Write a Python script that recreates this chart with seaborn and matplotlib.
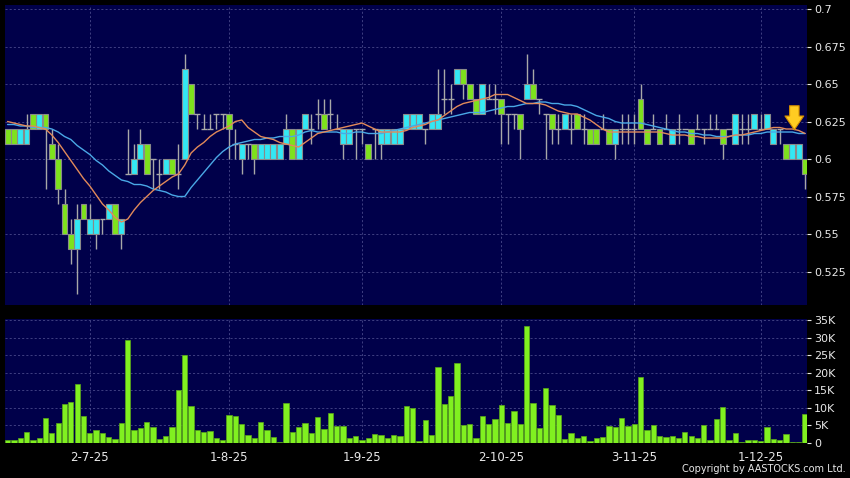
"""Daily candlestick chart with 10/20-day averages and volume (AASTOCKS style)."""
import matplotlib.pyplot as plt
import numpy as np
import pandas as pd
import seaborn as sns
from matplotlib.ticker import FuncFormatter

# ---- data (one entry per trading day) ----
opens = [
    .62, .62, .61, .61, .63, .62, .63, .61, .60, .57,
    .55, .54, .57, .55, .55, .56, .56, .57, .55, .59,
    .59, .60, .61, .60, .59, .59, .60, .59, .60, .65,
    .63, .62, .62, .63, .63, .63, .61, .60, .61, .61,
    .60, .60, .60, .60, .61, .62, .60, .62, .62, .63,
    .63, .63, .62, .61, .61, .62, .62, .61, .62, .61,
    .61, .61, .61, .62, .62, .62, .62, .62, .62, .64,
    .64, .65, .66, .65, .64, .63, .64, .64, .64, .63,
    .63, .63, .64, .65, .64, .63, .63, .62, .62, .62,
    .63, .62, .62, .62, .62, .62, .61, .62, .62, .62,
    .64, .62, .62, .62, .62, .61, .62, .62, .62, .62,
    .62, .62, .62, .62, .62, .61, .62, .62, .62, .62,
    .62, .61, .62, .61, .60, .60, .60,
]
highs = [
    .62, .62, .62, .63, .63, .63, .63, .62, .61, .58,
    .56, .57, .57, .57, .56, .56, .57, .57, .56, .62,
    .61, .62, .61, .60, .60, .60, .60, .61, .67, .65,
    .63, .63, .63, .63, .63, .63, .62, .61, .61, .61,
    .61, .61, .61, .61, .63, .62, .62, .63, .63, .64,
    .64, .64, .63, .62, .62, .62, .62, .61, .62, .62,
    .62, .62, .62, .63, .63, .63, .62, .63, .66, .66,
    .65, .66, .66, .65, .64, .65, .65, .65, .64, .63,
    .63, .63, .67, .66, .64, .63, .63, .63, .63, .63,
    .63, .63, .62, .62, .63, .62, .62, .63, .63, .63,
    .65, .62, .63, .62, .63, .62, .63, .62, .62, .63,
    .62, .63, .63, .62, .62, .63, .63, .63, .63, .63,
    .63, .62, .62, .61, .61, .61, .60,
]
lows = [
    .61, .61, .61, .61, .62, .62, .58, .60, .57, .55,
    .53, .51, .56, .55, .54, .55, .56, .55, .54, .59,
    .59, .60, .59, .58, .58, .59, .59, .58, .60, .63,
    .62, .62, .62, .62, .62, .60, .60, .59, .60, .59,
    .60, .60, .60, .60, .61, .60, .60, .62, .61, .62,
    .62, .62, .62, .60, .61, .60, .61, .60, .60, .60,
    .61, .61, .61, .62, .62, .62, .61, .62, .62, .63,
    .63, .65, .64, .64, .63, .63, .64, .63, .61, .61,
    .62, .60, .64, .64, .63, .60, .61, .61, .62, .61,
    .62, .61, .61, .61, .62, .61, .60, .61, .61, .61,
    .62, .61, .62, .61, .62, .61, .61, .62, .61, .62,
    .61, .62, .62, .60, .62, .61, .61, .61, .62, .62,
    .62, .61, .61, .60, .60, .60, .58,
]
closes = [
    .61, .61, .62, .62, .62, .63, .62, .60, .58, .55,
    .54, .56, .56, .56, .56, .56, .57, .55, .56, .59,
    .60, .61, .59, .60, .59, .60, .59, .59, .66, .63,
    .63, .62, .62, .63, .63, .62, .61, .61, .61, .60,
    .61, .61, .61, .61, .62, .60, .62, .63, .62, .63,
    .62, .63, .62, .62, .62, .62, .62, .60, .62, .62,
    .62, .62, .62, .63, .63, .63, .62, .63, .63, .64,
    .64, .66, .65, .64, .63, .65, .64, .64, .63, .63,
    .63, .62, .65, .64, .64, .63, .62, .62, .63, .62,
    .62, .62, .61, .61, .62, .61, .62, .62, .62, .62,
    .62, .61, .62, .61, .62, .62, .62, .62, .61, .62,
    .62, .62, .62, .61, .62, .63, .62, .62, .63, .62,
    .63, .62, .62, .60, .61, .61, .59,
]
volume_k = [
    0.9, 0.9, 1.2, 3.0, 0.9, 1.4, 7.2, 2.8, 5.7, 11.2,
    11.6, 16.8, 7.6, 2.8, 3.7, 2.8, 1.7, 1.1, 5.6, 29.3,
    3.5, 4.2, 5.9, 4.5, 1.1, 1.8, 4.5, 15.0, 25.1, 10.5,
    3.5, 3.0, 3.4, 1.2, 0.9, 8.0, 7.7, 5.4, 2.3, 1.4,
    5.8, 3.7, 1.7, 0.3, 11.4, 3.0, 4.5, 5.6, 2.8, 7.3,
    3.9, 8.4, 4.9, 4.7, 1.4, 1.9, 0.8, 1.4, 2.5, 2.3,
    1.2, 2.1, 1.9, 10.4, 10.0, 0.4, 6.5, 2.2, 21.7, 11.1,
    13.4, 22.7, 5.0, 5.4, 1.4, 7.7, 5.2, 6.7, 10.7, 5.6,
    9.0, 5.3, 33.5, 11.4, 4.2, 15.6, 10.8, 7.8, 1.0, 2.9,
    1.4, 1.9, 0.4, 1.2, 1.5, 4.8, 4.4, 7.0, 4.9, 5.3,
    18.8, 3.5, 5.0, 2.0, 1.6, 1.8, 1.2, 3.0, 1.8, 1.2,
    5.0, 0.7, 6.9, 10.2, 0.9, 2.8, 0.3, 0.7, 0.9, 0.6,
    4.4, 1.1, 0.8, 2.5, 0.2, 0.2, 8.3,
]
ma_short = [
    .625, .624, .623, .622, .622, .621, .620, .616, .611, .605,
    .599, .593, .587, .582, .576, .570, .566, .561, .558, .560,
    .566, .571, .575, .579, .582, .585, .588, .590, .596, .604,
    .608, .611, .615, .618, .620, .622, .625, .626, .621, .618,
    .615, .614, .613, .611, .610, .609, .608, .611, .614, .617,
    .618, .619, .620, .621, .622, .623, .624, .622, .620, .618,
    .618, .618, .618, .619, .621, .622, .623, .625, .626, .629,
    .632, .635, .637, .638, .639, .640, .641, .643, .643, .643,
    .641, .639, .637, .637, .637, .636, .634, .632, .631, .630,
    .630, .628, .626, .623, .620, .618, .618, .618, .618, .618,
    .618, .618, .618, .618, .617, .616, .616, .616, .615, .615,
    .614, .614, .614, .614, .615, .616, .616, .617, .618, .619,
    .620, .621, .621, .620, .620, .619, .617,
]
ma_long = [
    .623, .623, .622, .622, .621, .621, .621, .620, .618, .615,
    .613, .609, .606, .603, .599, .596, .592, .589, .586, .585,
    .583, .583, .582, .580, .579, .578, .576, .575, .575, .581,
    .586, .591, .596, .601, .605, .608, .610, .611, .612, .613,
    .613, .614, .614, .615, .615, .615, .616, .618, .619, .618,
    .618, .618, .618, .617, .617, .618, .618, .617, .617, .617,
    .618, .619, .620, .621, .622, .623, .624, .625, .626, .627,
    .628, .629, .630, .631, .631, .631, .632, .633, .634, .635,
    .635, .636, .637, .637, .638, .638, .637, .637, .636, .636,
    .635, .633, .631, .629, .628, .627, .625, .624, .624, .624,
    .624, .623, .622, .621, .620, .619, .618, .618, .617, .617,
    .616, .616, .615, .615, .615, .616, .616, .616, .617, .617,
    .618, .618, .618, .618, .618, .617, .617,
]
date_ticks = [13, 35, 56, 78, 99, 119]
date_labels = ["2-7-25", "1-8-25", "1-9-25", "2-10-25", "3-11-25", "1-12-25"]
price_ticks = [0.525, 0.55, 0.575, 0.6, 0.625, 0.65, 0.675, 0.7]
volume_ticks = [0, 5, 10, 15, 20, 25, 30, 35]

# ---- colours ----
BG = "#000000"
PANEL = "#00004a"
GRID = "#48488a"
CYAN = "#33e8f4"
GREEN = "#7ee21c"
BAR_GREEN = "#80f020"
BAR_EDGE = "#5aa818"
EDGE = "#8a8a8a"
WICK = "#a8a8a8"
ORANGE = "#e28a5a"
BLUE = "#4aa8e6"
TEXT = "#e8e8e8"

sns.set_theme(style="dark")
plt.rcParams.update({
    "font.family": ["DejaVu Sans"],
    "figure.facecolor": BG,
    "axes.facecolor": PANEL,
    "savefig.facecolor": BG,
})

o = np.array(opens)
h = np.array(highs)
l = np.array(lows)
c = np.array(closes)
idx = np.arange(len(c))

fig = plt.figure(figsize=(8.5, 4.78), dpi=100)
ax = fig.add_axes([5 / 850, 1 - 305 / 478, 802 / 850, 300 / 478])
axv = fig.add_axes([5 / 850, 1 - 443 / 478, 802 / 850, 124 / 478])

grid_kw = dict(color=GRID, linestyle=(0, (2.5, 2.5)), linewidth=0.6)

# price panel
up = c > o
down = c < o
flat = c == o
ax.vlines(idx, l, h, color=WICK, linewidth=1.0, zorder=2)
ax.bar(idx[up], (c - o)[up], bottom=o[up], width=0.94, color=CYAN,
       edgecolor=EDGE, linewidth=0.8, zorder=3)
ax.bar(idx[down], (o - c)[down], bottom=c[down], width=0.94, color=GREEN,
       edgecolor=EDGE, linewidth=0.8, zorder=3)
ax.hlines(c[flat], idx[flat] - 0.47, idx[flat] + 0.47, color=WICK,
          linewidth=1.0, zorder=3)
sns.lineplot(x=idx, y=ma_long, color=BLUE, linewidth=1.0, ax=ax, zorder=4)
sns.lineplot(x=idx, y=ma_short, color=ORANGE, linewidth=1.0, ax=ax, zorder=4)

# marker arrow on the latest average
ax.annotate("", xy=(idx[-1] - 1.7, ma_short[-2] + 0.0005),
            xytext=(idx[-1] - 1.7, ma_short[-2] + 0.0165),
            arrowprops=dict(arrowstyle="simple,head_length=0.55,head_width=0.75,tail_width=0.38",
                            mutation_scale=18, fc="#ffcc22", ec="#d08a00", lw=0.8,
                            shrinkA=0, shrinkB=0),
            zorder=6)

ax.set_xlim(-0.4, 126.3)
ax.set_ylim(0.50267, 0.70267)
ax.set_yticks(price_ticks, labels=[f"{t:g}" for t in price_ticks])
ax.set_xticks(date_ticks, labels=[])
ax.grid(True, **grid_kw)

# volume panel
vol = pd.DataFrame({"day": idx, "vol": volume_k})
sns.barplot(data=vol, x="day", y="vol", native_scale=True, color=BAR_GREEN,
            saturation=1, width=0.84, errorbar=None, edgecolor=BAR_EDGE,
            linewidth=0.5, ax=axv, zorder=3)
axv.set_xlim(-0.4, 126.3)
axv.set_ylim(-0.1, 35.4)
axv.set_yticks(volume_ticks)
axv.yaxis.set_major_formatter(FuncFormatter(lambda v, _: "0" if v == 0 else f"{v:g}K"))
axv.set_xticks(date_ticks, labels=date_labels)
axv.grid(True, **grid_kw)

for a in (ax, axv):
    a.set_axisbelow(True)
    for s in a.spines.values():
        s.set_visible(False)
    a.yaxis.tick_right()
    a.tick_params(axis="y", colors=TEXT, labelsize=8, length=3, width=0.8,
                  direction="out", pad=2, left=False, right=True)
    a.tick_params(axis="x", colors=TEXT, labelsize=8.5, length=3, width=0.8,
                  direction="out", pad=3)
    a.set_xlabel("")
    a.set_ylabel("")
ax.tick_params(axis="x", length=0)

fig.text(0.995, 0.008, "Copyright by AASTOCKS.com Ltd.", ha="right", va="bottom",
         color=TEXT, fontsize=7)

fig.savefig("out.png", dpi=100, facecolor=BG)
